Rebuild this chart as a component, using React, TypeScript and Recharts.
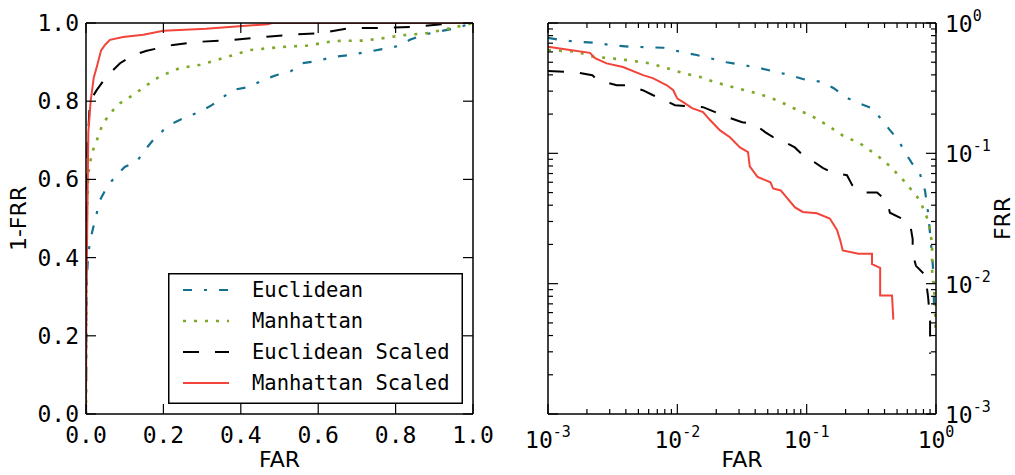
import React from 'react';
import { LineChart, Line, XAxis, YAxis, Legend } from 'recharts';

// ---------- data ----------
const seriesNames = ['Euclidean', 'Manhattan', 'Euclidean Scaled', 'Manhattan Scaled'];

// ROC (left): FAR vs 1-FRR
const rocEuclideanFar = [0, 0.001, 0.002, 0.005, 0.01, 0.017, 0.036, 0.054, 0.075, 0.1, 0.131, 0.152, 0.173, 0.2, 0.225, 0.26, 0.295, 0.325, 0.354, 0.38, 0.42, 0.457, 0.493, 0.527, 0.558, 0.6, 0.636, 0.682, 0.725, 0.765, 0.806, 0.837, 0.871, 0.92, 0.953, 1];
const rocEuclideanTpr = [0, 0.29, 0.34, 0.4, 0.44, 0.47, 0.547, 0.58, 0.607, 0.632, 0.645, 0.675, 0.7, 0.726, 0.744, 0.76, 0.773, 0.79, 0.81, 0.829, 0.836, 0.854, 0.867, 0.875, 0.897, 0.903, 0.913, 0.918, 0.926, 0.933, 0.941, 0.957, 0.97, 0.98, 0.986, 1];
const rocManhattanFar = [0, 0.001, 0.002, 0.006, 0.015, 0.028, 0.044, 0.07, 0.088, 0.122, 0.157, 0.19, 0.243, 0.295, 0.354, 0.424, 0.51, 0.57, 0.643, 0.72, 0.773, 0.83, 0.876, 0.92, 0.966, 1];
const rocManhattanTpr = [0, 0.45, 0.513, 0.616, 0.667, 0.7, 0.744, 0.777, 0.795, 0.816, 0.841, 0.863, 0.885, 0.893, 0.91, 0.931, 0.939, 0.942, 0.954, 0.955, 0.962, 0.97, 0.973, 0.982, 0.992, 1];
const rocEuclideanScaledFar = [0, 0.001, 0.004, 0.01, 0.028, 0.053, 0.088, 0.122, 0.157, 0.225, 0.295, 0.38, 0.467, 0.53, 0.605, 0.68, 0.76, 0.84, 0.925, 0.94, 1];
const rocEuclideanScaledTpr = [0, 0.6, 0.684, 0.8, 0.829, 0.863, 0.897, 0.918, 0.929, 0.944, 0.952, 0.957, 0.965, 0.97, 0.974, 0.987, 0.987, 0.99, 0.997, 1, 1];
const rocManhattanScaledFar = [0, 0.001, 0.003, 0.006, 0.012, 0.02, 0.028, 0.039, 0.05, 0.062, 0.096, 0.148, 0.2, 0.31, 0.37, 0.47, 0.48, 1];
const rocManhattanScaledTpr = [0, 0.3, 0.46, 0.72, 0.8, 0.86, 0.888, 0.93, 0.945, 0.957, 0.964, 0.97, 0.98, 0.985, 0.99, 0.997, 1, 1];

// DET (right): FAR vs FRR, log-log
const detEuclideanFar = [0.001, 0.00124, 0.00166, 0.00231, 0.003, 0.0043, 0.0078, 0.0105, 0.0141, 0.0179, 0.024, 0.0324, 0.0437, 0.0589, 0.0741, 0.0933, 0.132, 0.162, 0.2, 0.251, 0.32, 0.372, 0.442, 0.513, 0.575, 0.653, 0.75, 0.822, 0.87, 0.93, 0.955, 0.966];
const detEuclideanFrr = [0.77, 0.741, 0.718, 0.706, 0.678, 0.658, 0.646, 0.603, 0.568, 0.537, 0.5, 0.475, 0.45, 0.42, 0.398, 0.372, 0.352, 0.316, 0.269, 0.243, 0.222, 0.186, 0.15, 0.126, 0.102, 0.0838, 0.0702, 0.0519, 0.0347, 0.017, 0.012, 0.0063];
const detManhattanFar = [0.001, 0.00166, 0.00224, 0.003, 0.0041, 0.00617, 0.0083, 0.0111, 0.015, 0.0204, 0.0288, 0.0417, 0.0589, 0.0794, 0.107, 0.145, 0.19, 0.259, 0.35, 0.442, 0.575, 0.75, 0.87, 0.9, 0.933, 0.933, 0.977, 0.99, 0.99];
const detManhattanFrr = [0.62, 0.603, 0.55, 0.537, 0.519, 0.49, 0.451, 0.412, 0.385, 0.347, 0.316, 0.288, 0.256, 0.222, 0.196, 0.164, 0.137, 0.119, 0.0966, 0.0794, 0.0603, 0.0437, 0.0305, 0.0251, 0.0204, 0.0126, 0.0079, 0.005, 0.004];
const detEuclideanScaledFar = [0.001, 0.0016, 0.0022, 0.0024, 0.0034, 0.0041, 0.0054, 0.0065, 0.008, 0.0096, 0.013, 0.0158, 0.0206, 0.0247, 0.0317, 0.0386, 0.048, 0.055, 0.068, 0.081, 0.094, 0.11, 0.134, 0.16, 0.205, 0.225, 0.27, 0.35, 0.42, 0.44, 0.53, 0.63, 0.66, 0.66, 0.7, 0.8, 0.85, 0.87, 0.9, 0.9];
const detEuclideanScaledFrr = [0.428, 0.42, 0.398, 0.365, 0.333, 0.333, 0.305, 0.279, 0.255, 0.234, 0.229, 0.226, 0.203, 0.189, 0.173, 0.17, 0.145, 0.133, 0.122, 0.111, 0.096, 0.088, 0.077, 0.071, 0.068, 0.057, 0.05, 0.05, 0.043, 0.035, 0.032, 0.029, 0.022, 0.017, 0.0137, 0.012, 0.0093, 0.0078, 0.0052, 0.0029];
const detManhattanScaledFar = [0.001, 0.00148, 0.00211, 0.00231, 0.00284, 0.0038, 0.00543, 0.00646, 0.0083, 0.0093, 0.01, 0.0111, 0.013, 0.0158, 0.0179, 0.0214, 0.0255, 0.0305, 0.0352, 0.0363, 0.0417, 0.0525, 0.055, 0.063, 0.0813, 0.0933, 0.12, 0.151, 0.172, 0.182, 0.19, 0.251, 0.32, 0.32, 0.37, 0.37, 0.457, 0.468];
const detManhattanScaledFrr = [0.657, 0.62, 0.59, 0.537, 0.49, 0.46, 0.398, 0.378, 0.333, 0.305, 0.263, 0.247, 0.222, 0.207, 0.18, 0.15, 0.133, 0.111, 0.102, 0.0794, 0.066, 0.06, 0.0537, 0.0519, 0.0385, 0.0355, 0.0347, 0.0316, 0.0257, 0.0214, 0.018, 0.017, 0.017, 0.0141, 0.0132, 0.0081, 0.0081, 0.0053];

// ticks
const linearTicks = [0, 0.2, 0.4, 0.6, 0.8, 1.0];
const logMajorExponents = [-3, -2, -1, 0];
const logMinorMultipliers = [2, 3, 4, 5, 6, 7, 8, 9];

// ---------- helpers ----------
const zip = (xs: number[], ys: number[]) => xs.map((x, i) => ({ x, y: ys[i] }));

const rocData = [
  zip(rocEuclideanFar, rocEuclideanTpr),
  zip(rocManhattanFar, rocManhattanTpr),
  zip(rocEuclideanScaledFar, rocEuclideanScaledTpr),
  zip(rocManhattanScaledFar, rocManhattanScaledTpr),
];
const detData = [
  zip(detEuclideanFar, detEuclideanFrr),
  zip(detManhattanFar, detManhattanFrr),
  zip(detEuclideanScaledFar, detEuclideanScaledFrr),
  zip(detManhattanScaledFar, detManhattanScaledFrr),
];

const logTicks: number[] = [];
logMajorExponents.forEach((e) => {
  logTicks.push(Math.pow(10, e));
  if (e < 0) logMinorMultipliers.forEach((m) => logTicks.push(m * Math.pow(10, e)));
});

const STYLES = [
  { color: '#13718f', dash: '9 12 3 12', width: 2.2 },
  { color: '#7ea827', dash: '3 8', width: 2.6 },
  { color: '#000000', dash: '16 16', width: 2 },
  { color: '#f2443a', dash: undefined as string | undefined, width: 2 },
];

const MONO = '"DejaVu Sans Mono", monospace';
const SANS = '"DejaVu Sans", sans-serif';
const AX = { stroke: '#000', strokeWidth: 1.5 };

const isMajor = (v: number) => {
  const e = Math.round(Math.log10(v));
  return Math.abs(v - Math.pow(10, e)) < 1e-8 * Math.pow(10, e);
};

// ---------- tick renderers ----------
const LinBottom = (p: any) => (
  <g>
    <line x1={p.x} x2={p.x} y1={p.y} y2={p.y - 10} stroke="#000" strokeWidth={1.2} />
    <text x={p.x} y={p.y + 29} textAnchor="middle" fontFamily={MONO} fontSize={23} fill="#000">
      {Number(p.payload.value).toFixed(1)}
    </text>
  </g>
);
const LinTop = (p: any) => (
  <line x1={p.x} x2={p.x} y1={p.y} y2={p.y + 10} stroke="#000" strokeWidth={1.2} />
);
const LinLeft = (p: any) => (
  <g>
    <line x1={p.x} x2={p.x + 10} y1={p.y} y2={p.y} stroke="#000" strokeWidth={1.2} />
    <text x={p.x - 7} y={p.y + 8} textAnchor="end" fontFamily={MONO} fontSize={23} fill="#000">
      {Number(p.payload.value).toFixed(1)}
    </text>
  </g>
);
const LinRight = (p: any) => (
  <line x1={p.x} x2={p.x - 10} y1={p.y} y2={p.y} stroke="#000" strokeWidth={1.2} />
);

const LogBottom = (p: any) => {
  const v = p.payload.value;
  const major = isMajor(v);
  const len = major ? 10 : 5;
  return (
    <g>
      <line x1={p.x} x2={p.x} y1={p.y} y2={p.y - len} stroke="#000" strokeWidth={1.2} />
      {major && (
        <text x={p.x} y={p.y + 34} textAnchor="middle" fontFamily={MONO} fontSize={23} fill="#000">
          10<tspan dy={-11} fontSize={15}>{String(Math.round(Math.log10(v)))}</tspan>
        </text>
      )}
    </g>
  );
};
const LogTop = (p: any) => {
  const len = isMajor(p.payload.value) ? 10 : 5;
  return <line x1={p.x} x2={p.x} y1={p.y} y2={p.y + len} stroke="#000" strokeWidth={1.2} />;
};
const LogLeft = (p: any) => {
  const len = isMajor(p.payload.value) ? 10 : 5;
  return <line x1={p.x} x2={p.x + len} y1={p.y} y2={p.y} stroke="#000" strokeWidth={1.2} />;
};
const LogRight = (p: any) => {
  const v = p.payload.value;
  const major = isMajor(v);
  const len = major ? 10 : 5;
  return (
    <g>
      <line x1={p.x} x2={p.x - len} y1={p.y} y2={p.y} stroke="#000" strokeWidth={1.2} />
      {major && (
        <text x={p.x + 9} y={p.y + 9} textAnchor="start" fontFamily={MONO} fontSize={23} fill="#000">
          10<tspan dy={-11} fontSize={15}>{String(Math.round(Math.log10(v)))}</tspan>
        </text>
      )}
    </g>
  );
};

// ---------- axis labels ----------
const xLabel = (text: string) => (props: any) => {
  const vb = props.viewBox || {};
  return (
    <text x={vb.x + vb.width / 2} y={vb.y + 53} textAnchor="middle" fontFamily={SANS} fontSize={22} fill="#000">
      {text}
    </text>
  );
};
const yLabel = (text: string, dx: number) => (props: any) => {
  const vb = props.viewBox || {};
  const cx = vb.x + dx;
  const cy = vb.y + vb.height / 2;
  return (
    <text transform={`translate(${cx},${cy}) rotate(-90)`} textAnchor="middle" fontFamily={SANS} fontSize={22} fill="#000">
      {text}
    </text>
  );
};

// ---------- legend ----------
const LegendBox = () => (
  <svg width={295} height={131} style={{ display: 'block' }}>
    <rect x={0.75} y={0.75} width={293.5} height={129.5} fill="#fff" stroke="#000" strokeWidth={1.5} />
    {seriesNames.map((name, i) => {
      const cy = 17 + i * 31;
      const s = STYLES[i];
      return (
        <g key={name}>
          <line x1={15} x2={61} y1={cy} y2={cy} stroke={s.color} strokeWidth={s.width} strokeDasharray={s.dash} />
          <text x={84} y={cy + 7} fontFamily={MONO} fontSize={20.5} fill="#000">{name}</text>
        </g>
      );
    })}
  </svg>
);

const axisCommon = { type: 'number' as const, allowDataOverflow: true, interval: 0 as const, tickSize: 0, tickMargin: 0, axisLine: AX, tickLine: false };

export default function App() {
  return (
    <div style={{ position: 'absolute', left: 0, top: 0, width: 1015, height: 475, background: '#fff', overflow: 'hidden' }}>
      <div style={{ position: 'absolute', left: 0, top: 0 }}>
        <LineChart width={510} height={475} margin={{ top: 22, left: 85, right: 36, bottom: 60 }}>
          <XAxis xAxisId="b" dataKey="x" {...axisCommon} domain={[0, 1]} ticks={linearTicks} height={1} tick={<LinBottom />} label={xLabel('FAR')} />
          <XAxis xAxisId="t" orientation="top" dataKey="x" {...axisCommon} domain={[0, 1]} ticks={linearTicks} height={1} tick={<LinTop />} />
          <YAxis yAxisId="l" dataKey="y" {...axisCommon} domain={[0, 1]} ticks={linearTicks} width={1} tick={<LinLeft />} label={yLabel('1-FRR', -59)} />
          <YAxis yAxisId="r" orientation="right" dataKey="y" {...axisCommon} domain={[0, 1]} ticks={linearTicks} width={1} tick={<LinRight />} />
          {rocData.map((d, i) => (
            <Line key={seriesNames[i]} name={seriesNames[i]} data={d} xAxisId="b" yAxisId="l" dataKey="y" type="linear"
              stroke={STYLES[i].color} strokeWidth={STYLES[i].width} strokeDasharray={STYLES[i].dash}
              dot={false} activeDot={false} isAnimationActive={false} />
          ))}
          <Legend layout="vertical" align="center" verticalAlign="middle" content={() => <LegendBox />}
            wrapperStyle={{ left: 168, top: 273, width: 295, height: 131 }} />
        </LineChart>
      </div>
      <div style={{ position: 'absolute', left: 510, top: 0 }}>
        <LineChart width={505} height={475} margin={{ top: 22, left: 37, right: 78, bottom: 60 }}>
          <XAxis xAxisId="b" dataKey="x" {...axisCommon} scale="log" domain={[0.001, 1]} ticks={logTicks} height={1} tick={<LogBottom />} label={xLabel('FAR')} />
          <XAxis xAxisId="t" orientation="top" dataKey="x" {...axisCommon} scale="log" domain={[0.001, 1]} ticks={logTicks} height={1} tick={<LogTop />} />
          <YAxis yAxisId="l" dataKey="y" {...axisCommon} scale="log" domain={[0.001, 1]} ticks={logTicks} width={1} tick={<LogLeft />} />
          <YAxis yAxisId="r" orientation="right" dataKey="y" {...axisCommon} scale="log" domain={[0.001, 1]} ticks={logTicks} width={1} tick={<LogRight />} label={yLabel('FRR', 74)} />
          {detData.map((d, i) => (
            <Line key={seriesNames[i]} name={seriesNames[i]} data={d} xAxisId="b" yAxisId="l" dataKey="y" type="linear"
              stroke={STYLES[i].color} strokeWidth={STYLES[i].width} strokeDasharray={STYLES[i].dash}
              dot={false} activeDot={false} isAnimationActive={false} />
          ))}
        </LineChart>
      </div>
    </div>
  );
}
